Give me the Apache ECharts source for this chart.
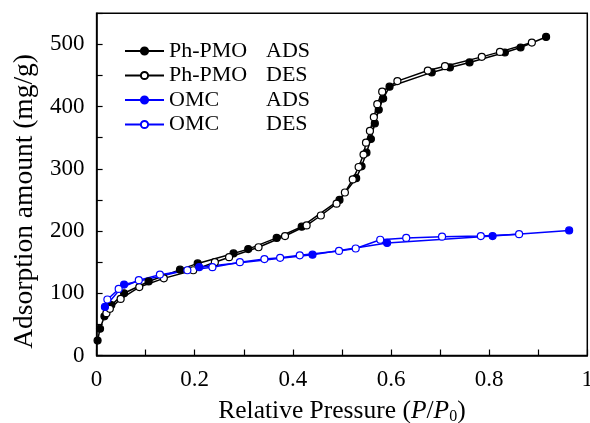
<!DOCTYPE html>
<html>
<head>
<meta charset="utf-8">
<script src="https://cdn.jsdelivr.net/npm/echarts@6/dist/echarts.min.js"></script>
<style>
html,body{margin:0;padding:0;background:#fff;}
#chart{width:590px;height:423px;}
</style>
</head>
<body>
<div id="chart"></div>
<script>
// Legend / series names
var seriesNames = ['Ph-PMO ADS', 'Ph-PMO DES', 'OMC ADS', 'OMC DES'];

// Tick values
var xTickLabels = ['0', '0.2', '0.4', '0.6', '0.8', '1'];
var yTickLabels = ['0', '100', '200', '300', '400', '500'];

// Ph-PMO adsorption [P/P0, amount]
var phPmoAds = [[0.002,24],[0.007,43],[0.016,63],[0.030,81],[0.056,100],[0.106,119],[0.170,138],[0.206,148],[0.279,164],[0.309,171],[0.367,189],[0.418,207],[0.495,250],[0.529,285],[0.540,304],[0.550,326],[0.559,348],[0.567,373],[0.575,395],[0.584,413],[0.597,432],[0.683,455],[0.720,463],[0.760,471],[0.832,487],[0.864,495],[0.916,512]];
// Ph-PMO desorption
var phPmoDes = [[0.020,68],[0.027,75],[0.049,91],[0.087,110],[0.137,124],[0.197,137],[0.241,150],[0.270,158],[0.330,174],[0.384,192],[0.428,209],[0.457,225],[0.489,244],[0.506,262],[0.522,283],[0.534,303],[0.544,323],[0.549,342],[0.557,361],[0.565,383],[0.572,404],[0.582,424],[0.613,441],[0.675,458],[0.710,465],[0.785,480],[0.822,488],[0.887,503]];
// OMC adsorption
var omcAds = [[0.017,78],[0.056,114],[0.209,142],[0.440,162],[0.592,181],[0.807,192],[0.963,201]];
// OMC desorption
var omcDes = [[0.022,90],[0.045,107],[0.086,121],[0.129,130],[0.185,137],[0.236,142],[0.292,150],[0.342,155],[0.374,157],[0.414,161],[0.494,168],[0.528,172],[0.578,186],[0.631,189],[0.704,191],[0.783,192],[0.861,195]];

var BLUE = '#0000ff';
var FONT = '"Liberation Serif", "Times New Roman", serif';

function mkSeries(name, data, color, filled) {
  return {
    name: name,
    type: 'line',
    data: data,
    symbol: 'circle',
    symbolSize: 7,
    showSymbol: true,
    lineStyle: {color: color, width: 1.5},
    itemStyle: {color: filled ? color : '#ffffff', borderColor: color, borderWidth: 1.2},
    emphasis: {disabled: true},
    animation: false
  };
}

var chart = echarts.init(document.getElementById('chart'), null, {renderer: 'canvas'});
chart.setOption({
  backgroundColor: '#fff',
  animation: false,
  grid: {left: 96.6, right: 2.7, top: 13.3, bottom: 67.5, show: true, borderColor: '#000', borderWidth: 1.5, backgroundColor: 'transparent', containLabel: false, outerBoundsMode: 'none'},
  legend: {
    orient: 'vertical',
    left: 119,
    top: 35,
    itemWidth: 39,
    itemHeight: 9,
    itemGap: 2.5,
    data: seriesNames,
    formatter: function (n) {
      var p = n.split(' ');
      return '{a|' + p[0] + '}{b|' + p[1] + '}';
    },
    textStyle: {
      fontFamily: FONT, fontSize: 22, color: '#000', lineHeight: 22,
      rich: {
        a: {fontFamily: FONT, fontSize: 22, color: '#000', width: 97},
        b: {fontFamily: FONT, fontSize: 22, color: '#000'}
      }
    }
  },
  xAxis: {
    type: 'value', min: 0, max: 1, interval: 0.1,
    name: 'Relative Pressure ({i|P}/{i|P}{s|0})',
    nameLocation: 'middle',
    nameGap: 43,
    nameTextStyle: {
      fontFamily: FONT, fontSize: 25.5, color: '#000',
      rich: {
        i: {fontFamily: FONT, fontSize: 25.5, fontStyle: 'italic', color: '#000'},
        s: {fontFamily: FONT, fontSize: 16, color: '#000', padding: [10, 0, 0, 0]}
      }
    },
    axisLine: {lineStyle: {color: '#000', width: 1.5}},
    axisTick: {inside: true, length: 6, lineStyle: {color: '#000', width: 1.2}},
    splitLine: {show: false},
    axisLabel: {
      fontFamily: FONT, fontSize: 23, color: '#000', margin: 13,
      showMinLabel: true, showMaxLabel: true,
      formatter: function (v) {
        var k = Math.round(v * 10);
        if (k % 2 !== 0) return '';
        return xTickLabels[k / 2];
      }
    }
  },
  yAxis: {
    type: 'value', min: 0, max: 550, interval: 50,
    name: 'Adsorption amount (mg/g)',
    nameLocation: 'middle',
    nameGap: 58,
    nameTextStyle: {fontFamily: FONT, fontSize: 27.5, color: '#000', padding: [0, 34, 0, 0]},
    axisLine: {lineStyle: {color: '#000', width: 1.5}},
    axisTick: {inside: true, length: 6, lineStyle: {color: '#000', width: 1.2}},
    splitLine: {show: false},
    axisLabel: {
      fontFamily: FONT, fontSize: 23, color: '#000', margin: 12,
      formatter: function (v) {
        if (v % 100 !== 0) return '';
        return yTickLabels[v / 100];
      }
    }
  },
  series: [
    mkSeries(seriesNames[0], phPmoAds, '#000', true),
    mkSeries(seriesNames[1], phPmoDes, '#000', false),
    mkSeries(seriesNames[2], omcAds, BLUE, true),
    mkSeries(seriesNames[3], omcDes, BLUE, false)
  ]
});
</script>
</body>
</html>
